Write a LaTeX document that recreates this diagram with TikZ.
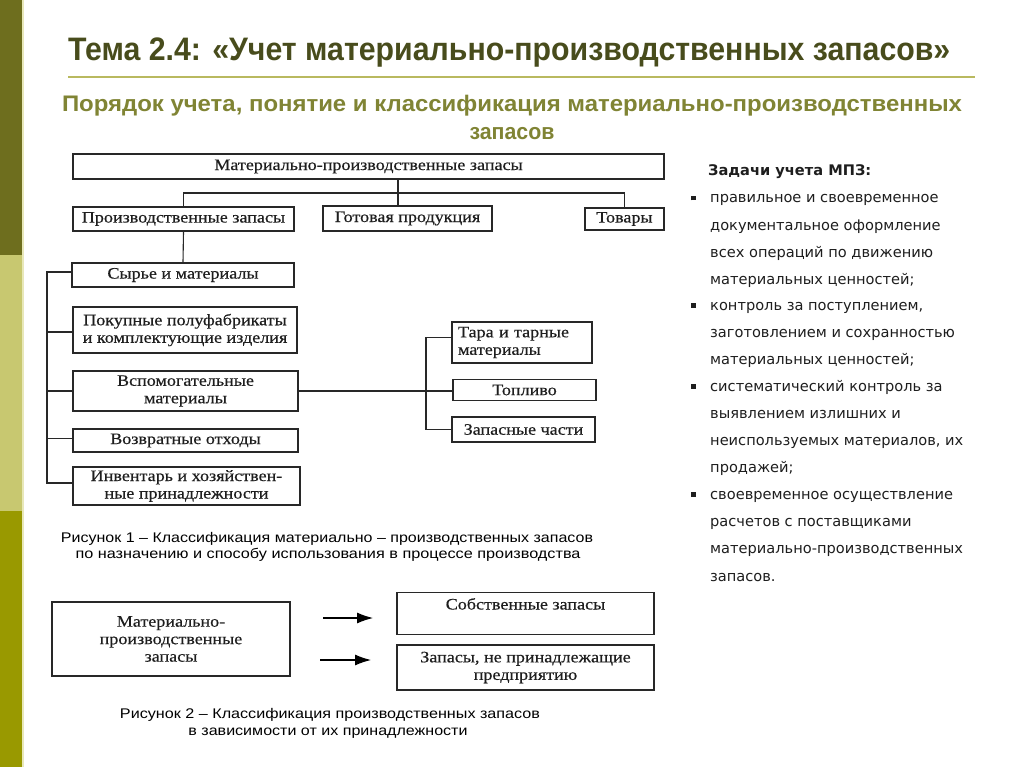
\documentclass[tikz,border=0pt]{standalone}
\usepackage{fontspec}
\usepackage{graphicx}
\usetikzlibrary{arrows.meta}
\setmainfont{Liberation Serif}
\newfontfamily\dgfont[FakeStretch=1.13,FakeBold=0.4]{Liberation Serif}
\newfontfamily\ttlfont{Liberation Sans}
\newfontfamily\rfont{DejaVu Sans}
\newfontfamily\capfnt{Liberation Sans}
\definecolor{bardark}{RGB}{110,110,30}
\definecolor{barlight}{RGB}{200,200,112}
\definecolor{barolive}{RGB}{153,153,0}
\definecolor{barstripe}{RGB}{232,232,185}
\definecolor{titlecol}{RGB}{72,76,28}
\definecolor{rulecol}{RGB}{185,185,95}
\definecolor{subcol}{RGB}{128,132,52}
\definecolor{boxline}{RGB}{40,40,40}
\definecolor{dtext}{RGB}{30,30,30}
\definecolor{rtextcol}{RGB}{30,30,30}
\newcommand{\sqbul}{\makebox[19pt][l]{\raisebox{2.5pt}{\rule{4.5pt}{4.5pt}}}}
\begin{document}
\begin{tikzpicture}[x=1pt,y=-1pt,
  box/.style={draw=boxline, line width=1.3pt, inner sep=2pt, text=dtext,
    font=\dgfont\fontsize{16}{17.5}\selectfont, align=center},
  conn/.style={draw=boxline, line width=1.1pt},
  arr/.style={draw=black, line width=1.1pt, -{Latex[length=16pt,width=11pt]}},
  rtext/.style={anchor=base west, inner sep=0, text=rtextcol, font=\rfont\fontsize{14.6}{16}\selectfont},
  captext/.style={anchor=base, inner sep=0, text=black}]
\useasboundingbox (0,0) rectangle (1024,767);
\fill[white] (0,0) rectangle (1024,767);
% left bar
\fill[bardark] (0,0) rectangle (22,255);
\fill[barlight] (0,255) rectangle (22,511);
\fill[barolive] (0,511) rectangle (22,767);
\fill[barstripe] (22,0) rectangle (24,767);
% title
\node[anchor=base west, inner sep=0, text=titlecol] (title) at (68,61)
  {\resizebox{882pt}{\height}{\ttlfont\bfseries\fontsize{32.5}{33}\selectfont Тема 2.4: «Учет материально-производственных запасов»}};
\draw[rulecol, line width=2pt] (68,77) -- (975,77);
\node[anchor=base, inner sep=0, text=subcol] (sub1) at (512,112)
  {\resizebox{900pt}{\height}{\ttlfont\bfseries\fontsize{22.5}{23}\selectfont Порядок учета, понятие и классификация материально-производственных}};
\node[anchor=base, inner sep=0, text=subcol] (sub2) at (512,140)
  {\resizebox{85pt}{\height}{\ttlfont\bfseries\fontsize{22.5}{23}\selectfont запасов}};
% diagram 1
\node[box, minimum width=591pt, minimum height=25pt] (mpz) at (368.5,166.5) {Материально-производственные запасы};
\node[box, minimum width=221pt, minimum height=24pt] (pz) at (183.5,219) {Производственные запасы};
\node[box, minimum width=169pt, minimum height=25pt] (gp) at (407.5,218.5) {Готовая продукция};
\node[box, minimum width=79pt, minimum height=22pt] (tov) at (624.5,219) {Товары};
\node[box, minimum width=222pt, minimum height=24pt] (syr) at (183,275) {Сырье и материалы};
\node[box, minimum width=224pt, minimum height=46pt] (pok) at (185,330) {Покупные полуфабрикаты\\и комплектующие изделия};
\node[box, minimum width=225pt, minimum height=40pt] (vsp) at (185.5,391) {Вспомогательные\\материалы};
\node[box, minimum width=225pt, minimum height=23pt] (voz) at (185.5,440.5) {Возвратные отходы};
\node[box, minimum width=227pt, minimum height=38pt] (inv) at (186.5,486) {Инвентарь и хозяйствен-\\ные принадлежности};
\node[box, minimum width=140pt, minimum height=41pt, align=left, text width=128pt] (tara) at (522,342.5) {Тара и тарные\\материалы};
\node[box, minimum width=143pt, minimum height=21pt] (topl) at (524.5,390) {Топливо};
\node[box, minimum width=143pt, minimum height=25pt] (zap) at (523.5,429.5) {Запасные части};
\coordinate (cx) at (398,0);
\coordinate (hy) at (0,193);
\coordinate (lb) at (47,0);
\coordinate (rb) at (426,0);
\draw[conn] (mpz.south -| cx) -- (gp.north -| cx);
\draw[conn] (pz.north) |- (hy -| tov.north) -- (tov.north);
\draw[conn] (pz.south) -- (syr.north);
\draw[conn] ([yshift=3pt]syr.west) -| ([yshift=3pt]lb |- inv.west) -- ([yshift=3pt]inv.west);
\draw[conn] ([yshift=-2pt]pok.west) -- ([yshift=-2pt]pok.west -| lb);
\draw[conn] (vsp.west) -- (vsp.west -| lb);
\draw[conn] ([yshift=2pt]voz.west) -- ([yshift=2pt]voz.west -| lb);
\draw[conn] (vsp.east) -- (vsp.east -| topl.west);
\draw[conn] ([yshift=5pt]tara.west) -| (rb |- zap.west) -- (zap.west);
% captions 1
\node[captext] (c1a) at (327,542) {\resizebox{532pt}{\height}{\capfnt\fontsize{14}{16}\selectfont Рисунок 1 – Классификация материально – производственных запасов}};
\node[captext] (c1b) at (328,558) {\resizebox{505pt}{\height}{\capfnt\fontsize{14}{16}\selectfont по назначению и способу использования в процессе производства}};
% diagram 2
\node[box, minimum width=238pt, minimum height=74pt] (mpz2) at (171,639) {Материально-\\производственные\\запасы};
\node[box, minimum width=257pt, text height=13pt, text depth=21pt, inner ysep=4pt] (sob) at (525.5,613.5) {Собственные запасы};
\node[box, minimum width=257pt, minimum height=45pt] (nep) at (525.5,667.5) {Запасы, не принадлежащие\\предприятию};
\coordinate (a1s) at (323,618);
\coordinate (a1e) at (373,618);
\coordinate (a2s) at (320,660);
\coordinate (a2e) at (371,660);
\draw[arr] (a1s) -- (a1e);
\draw[arr] (a2s) -- (a2e);
\node[captext] (c2a) at (330,718) {\resizebox{420pt}{\height}{\capfnt\fontsize{14}{16}\selectfont Рисунок 2 – Классификация производственных запасов}};
\node[captext] (c2b) at (328,735) {\resizebox{279pt}{\height}{\capfnt\fontsize{14}{16}\selectfont в зависимости от их принадлежности}};
% right text
\node[rtext, font=\rfont\bfseries\fontsize{14.6}{16}\selectfont] (head) at (708,176) {Задачи учета МПЗ:};
\node[rtext] (l1) at (691,203) {\sqbul правильное и своевременное};
\node[rtext] (l2) at (710,230) {документальное оформление};
\node[rtext] (l3) at (710,257) {всех операций по движению};
\node[rtext] (l4) at (710,284) {материальных ценностей;};
\node[rtext] (l5) at (691,310) {\sqbul контроль за поступлением,};
\node[rtext] (l6) at (710,337) {заготовлением и сохранностью};
\node[rtext] (l7) at (710,364) {материальных ценностей;};
\node[rtext] (l8) at (691,391) {\sqbul систематический контроль за};
\node[rtext] (l9) at (710,418) {выявлением излишних и};
\node[rtext] (l10) at (710,445) {неиспользуемых материалов, их};
\node[rtext] (l11) at (710,472) {продажей;};
\node[rtext] (l12) at (691,499) {\sqbul своевременное осуществление};
\node[rtext] (l13) at (710,526) {расчетов с поставщиками};
\node[rtext] (l14) at (710,553) {материально-производственных};
\node[rtext] (l15) at (710,581) {запасов.};
\end{tikzpicture}
\end{document}
